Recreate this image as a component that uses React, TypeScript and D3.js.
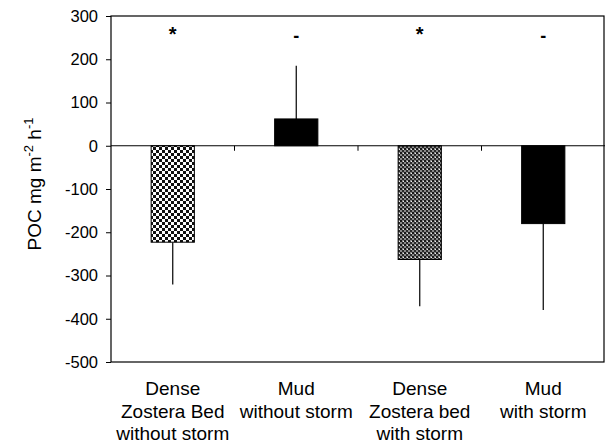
import * as d3 from 'd3';
import React, { useRef, useEffect } from 'react';

const categories = [
  ['Dense', 'Zostera Bed', 'without storm'],
  ['Mud', 'without storm'],
  ['Dense', 'Zostera bed', 'with storm'],
  ['Mud', 'with storm'],
];
const means = [-223, 62, -263, -180];
const errors = [-321, 185, -371, -380];
const marks = ['*', '-', '*', '-'];
const fills = ['url(#check1)', '#000', 'url(#check2)', '#000'];
const yTicks = [300, 200, 100, 0, -100, -200, -300, -400, -500];

const width = 605;
const height = 444;
const margin = { left: 111, right: 0, top: 16, bottom: 82 };

function App() {
  const ref = useRef<SVGSVGElement>(null);

  useEffect(() => {
    const svg = d3.select(ref.current);
    svg.selectAll('*').remove();

    const defs = svg.append('defs');
    // coarse black/white checker
    const p1 = defs.append('pattern').attr('id', 'check1')
      .attr('width', 6).attr('height', 6).attr('patternUnits', 'userSpaceOnUse');
    p1.append('rect').attr('width', 6).attr('height', 6).attr('fill', '#fff');
    p1.append('rect').attr('width', 3).attr('height', 3).attr('fill', '#111');
    p1.append('rect').attr('x', 3).attr('y', 3).attr('width', 3).attr('height', 3).attr('fill', '#111');
    // finer, darker grey checker
    const p2 = defs.append('pattern').attr('id', 'check2')
      .attr('width', 4).attr('height', 4).attr('patternUnits', 'userSpaceOnUse');
    p2.append('rect').attr('width', 4).attr('height', 4).attr('fill', '#8a8a8a');
    p2.append('rect').attr('width', 2).attr('height', 2).attr('fill', '#1a1a1a');
    p2.append('rect').attr('x', 2).attr('y', 2).attr('width', 2).attr('height', 2).attr('fill', '#2a2a2a');
    p2.append('rect').attr('x', 3).attr('y', 1).attr('width', 1).attr('height', 1).attr('fill', '#eee');

    const x = d3.scaleBand<number>()
      .domain(d3.range(categories.length))
      .range([margin.left, width - margin.right])
      .paddingInner(0).paddingOuter(0);
    const y = d3.scaleLinear().domain([-500, 300]).range([height - margin.bottom, margin.top]);

    const font = 'Arial, "Liberation Sans", sans-serif';

    // frame
    svg.append('rect')
      .attr('x', margin.left).attr('y', margin.top)
      .attr('width', width - margin.left - margin.right - 1)
      .attr('height', y(-500) - margin.top)
      .attr('fill', 'none').attr('stroke', '#000').attr('stroke-width', 1.2);

    // y axis
    const yAxis = svg.append('g').attr('transform', `translate(${margin.left},0)`)
      .call(d3.axisLeft(y).tickValues(yTicks).tickSize(5).tickPadding(8).tickFormat(d => String(d)));
    yAxis.select('.domain').remove();
    yAxis.selectAll('text').attr('font-size', 16.5).attr('font-family', font).attr('fill', '#000');

    // error bars (drawn behind bars)
    svg.selectAll('line.err').data(means).enter().append('line')
      .attr('x1', (d, i) => x(i)! + x.bandwidth() / 2)
      .attr('x2', (d, i) => x(i)! + x.bandwidth() / 2)
      .attr('y1', d => y(d))
      .attr('y2', (d, i) => y(errors[i]))
      .attr('stroke', '#000').attr('stroke-width', 1.2);

    const bw = x.bandwidth() * 0.35;
    svg.selectAll('rect.bar').data(means).enter().append('rect')
      .attr('x', (d, i) => x(i)! + (x.bandwidth() - bw) / 2)
      .attr('y', d => y(Math.max(0, d)))
      .attr('width', bw)
      .attr('height', d => Math.abs(y(d) - y(0)))
      .attr('fill', (d, i) => fills[i])
      .attr('stroke', '#000').attr('stroke-width', 1);

    // zero line with category ticks
    svg.append('line')
      .attr('x1', margin.left).attr('x2', width - margin.right)
      .attr('y1', y(0)).attr('y2', y(0))
      .attr('stroke', '#000').attr('stroke-width', 1.2);
    svg.selectAll('line.ctick').data(d3.range(1, categories.length)).enter().append('line')
      .attr('x1', d => x(d)!).attr('x2', d => x(d)!)
      .attr('y1', y(0)).attr('y2', y(0) + 5)
      .attr('stroke', '#000');

    // significance marks
    svg.selectAll('text.mark').data(marks).enter().append('text')
      .attr('x', (d, i) => x(i)! + x.bandwidth() / 2)
      .attr('y', (d) => d === '*' ? y(243) : y(240))
      .attr('text-anchor', 'middle')
      .attr('font-family', font)
      .attr('font-weight', 'bold')
      .attr('font-size', d => d === '*' ? 20 : 18)
      .text(d => d);

    // category labels
    categories.forEach((lines, i) => {
      const t = svg.append('text')
        .attr('x', x(i)! + x.bandwidth() / 2)
        .attr('y', 395)
        .attr('text-anchor', 'middle')
        .attr('font-family', font).attr('font-size', 19).attr('fill', '#000');
      lines.forEach((l, j) => {
        t.append('tspan').attr('x', x(i)! + x.bandwidth() / 2).attr('dy', j === 0 ? 0 : 22.5).text(l);
      });
    });

    // y label
    const lab = svg.append('text')
      .attr('transform', `translate(41,184) rotate(-90)`)
      .attr('text-anchor', 'middle')
      .attr('font-family', font).attr('font-size', 19).attr('fill', '#000');
    lab.append('tspan').text('POC mg m');
    lab.append('tspan').attr('dy', -8).attr('font-size', 13).text('-2');
    lab.append('tspan').attr('dy', 8).text(' h');
    lab.append('tspan').attr('dy', -8).attr('font-size', 13).text('-1');
  }, []);

  return (
    <div style={{ position: 'absolute', left: 0, top: 0 }}>
      <svg ref={ref} width={width} height={height} style={{ display: 'block', background: '#fff' }} />
    </div>
  );
}

export default App;
